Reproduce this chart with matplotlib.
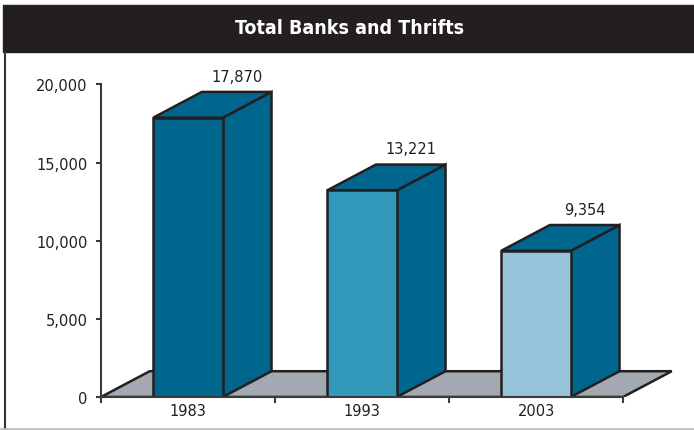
import matplotlib
matplotlib.use("Agg")
import matplotlib.pyplot as plt
import matplotlib.patches as patches
from matplotlib.ticker import FuncFormatter

years = ["1983", "1993", "2003"]
totals = [17870, 13221, 9354]
front_colors = ["#00668d", "#3399ba", "#97c4da"]
side_color = "#00668d"
floor_color = "#a3a9b0"
edge_color = "#231f20"

bar_width = 0.40
depth_x = 0.28      # 3d offset in category units
depth_y = 1650      # 3d offset in value units

fig = plt.figure(figsize=(6.94, 4.31), dpi=100)

# title bar and frame
fig.patches.append(patches.Rectangle((3 / 694, 1 - 53 / 431), 691 / 694, 47 / 431,
                                     transform=fig.transFigure, color="#231f20", zorder=0))
fig.lines.append(plt.Line2D([3 / 694, 1], [1 - 5 / 431, 1 - 5 / 431],
                            transform=fig.transFigure, color="#cccccc", lw=0.8))
fig.lines.append(plt.Line2D([4.5 / 694, 4.5 / 694], [0, 1 - 53 / 431],
                            transform=fig.transFigure, color="#333333", lw=1.5))
fig.lines.append(plt.Line2D([0, 1], [1.5 / 431, 1.5 / 431],
                            transform=fig.transFigure, color="#bbbbbb", lw=1.2))
fig.text(350 / 694, 1 - 29 / 431, "Total Banks and Thrifts", color="white",
         ha="center", va="center", fontsize=14, fontweight="bold",
         fontstretch="condensed",
         family=["DejaVu Sans Condensed", "DejaVu Sans"])

ax = fig.add_axes([101 / 694, 33 / 431, 589 / 694, 338 / 431])
ax.set_xlim(-0.5, 2.885)
ax.set_ylim(0, 21625)

# floor
n = len(years)
floor = patches.Polygon([(-0.5, 0), (-0.5 + depth_x, depth_y),
                         (n - 0.5 + depth_x, depth_y), (n - 0.5, 0)],
                        closed=True, facecolor=floor_color, edgecolor=edge_color,
                        lw=1.8, joinstyle="miter", zorder=1)
ax.add_patch(floor)

for i, (v, c) in enumerate(zip(totals, front_colors)):
    x0, x1 = i - bar_width / 2, i + bar_width / 2
    side = patches.Polygon([(x1, 0), (x1 + depth_x, depth_y), (x1 + depth_x, v + depth_y), (x1, v)],
                           closed=True, facecolor=side_color, edgecolor=edge_color,
                           lw=1.8, joinstyle="miter", zorder=3)
    top = patches.Polygon([(x0, v), (x0 + depth_x, v + depth_y), (x1 + depth_x, v + depth_y), (x1, v)],
                          closed=True, facecolor=side_color, edgecolor=edge_color,
                          lw=1.8, joinstyle="miter", zorder=3)
    front = patches.Rectangle((x0, 0), bar_width, v, facecolor=c, edgecolor=edge_color,
                              lw=1.8, joinstyle="miter", zorder=4)
    for p in (side, top, front):
        ax.add_patch(p)
    ax.annotate(f"{v:,}", (i + depth_x, v + depth_y), xytext=(0, 6),
                textcoords="offset points", ha="center", va="bottom",
                fontsize=10.5, color="#231f20")

for s in ("top", "right"):
    ax.spines[s].set_visible(False)
ax.spines["left"].set_bounds(0, 20000)
ax.spines["bottom"].set_bounds(-0.5, n - 0.5)
for s in ("left", "bottom"):
    ax.spines[s].set_linewidth(1.5)
    ax.spines[s].set_color("#3a3a3a")
    ax.spines[s].set_zorder(5)

ax.set_yticks(range(0, 20001, 5000))
ax.yaxis.set_major_formatter(FuncFormatter(lambda v, p: f"{int(v):,}"))
ax.tick_params(axis="y", length=3.5, width=1.5, color="#3a3a3a", pad=6,
               labelsize=10.5, labelcolor="#231f20")

ax.set_xticks(range(n))
ax.set_xticklabels(years)
ax.set_xticks([i - 0.5 for i in range(n + 1)], minor=True)
ax.tick_params(axis="x", which="major", length=0, pad=4, labelsize=10.5, labelcolor="#231f20")
ax.tick_params(axis="x", which="minor", length=4, width=1.5, color="#3a3a3a")

fig.savefig("out.png", dpi=100)
